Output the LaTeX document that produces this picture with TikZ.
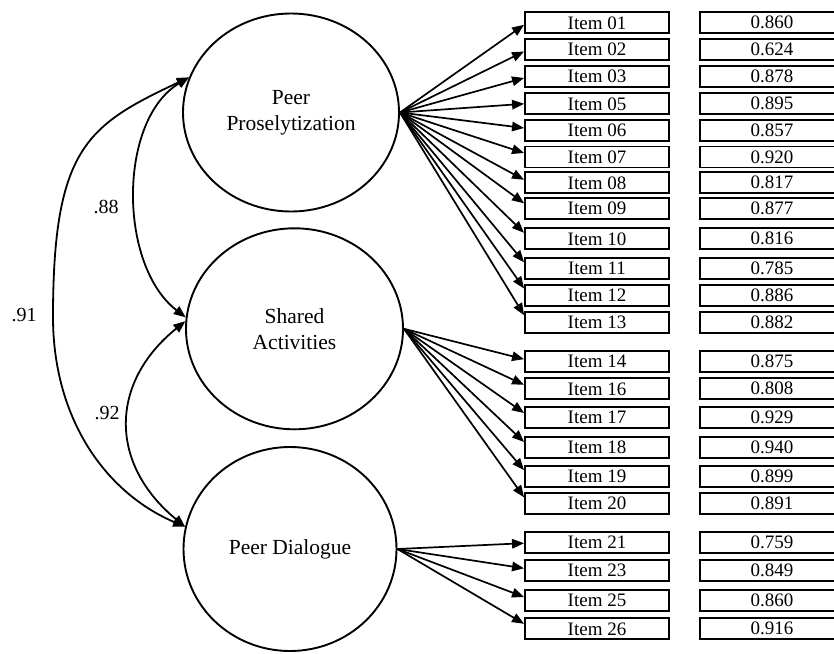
\documentclass[tikz,border=0pt]{standalone}
\usepackage{fontspec}
\setmainfont{Liberation Serif}
\usetikzlibrary{shapes.geometric,arrows.meta}
\begin{document}
\begin{tikzpicture}[x=1pt,y=-1pt,
  latent/.style={draw, ellipse, line width=1.9pt, inner sep=0pt, align=center,
    font=\fontsize{21.5}{26}\selectfont},
  itembox/.style={draw, rectangle, line width=1.9pt, minimum width=144pt,
    minimum height=21pt, inner sep=0pt, font=\fontsize{19}{22}\selectfont},
  load/.style={line width=1.7pt, -{Triangle[length=12pt,width=9.5pt]}},
  cov/.style={line width=1.8pt, {Triangle[length=12pt,width=9.5pt]}-{Triangle[length=12pt,width=9.5pt]}},
  corr/.style={font=\fontsize{20}{24}\selectfont, inner sep=0pt}
]
\useasboundingbox (0,0) rectangle (834,653);
\clip (0,0) rectangle (834,653);

% latent factors
\node[latent, minimum width=216pt, minimum height=198pt] (pp) at (291,112.5) {Peer\\Proselytization};
\node[latent, minimum width=217pt, minimum height=201pt] (sa) at (294.5,328.8) {Shared\\Activities};
\node[latent, minimum width=213pt, minimum height=204pt] (pd) at (290,549) {Peer Dialogue};

% indicator boxes and loadings
\foreach \n/\y/\v/\o in {01/22.8/0.860/-2, 02/49.5/0.624/-2, 03/76.5/0.878/-1.5,
  05/103.8/0.895/0, 06/130.5/0.857/2.5, 07/157/0.920/4, 08/182.8/0.817/3,
  09/208.3/0.877/5, 10/238.8/0.816/6, 11/268.3/0.785/6, 12/295.5/0.886/7,
  13/322.2/0.882/7}{
  \node[itembox] (item\n) at (597,\y) {Item \n};
  \node[itembox] (val\n) at (772,\y) {\v};
  \draw[load] (pp.east) -- ([yshift=\o pt]item\n.west);
}
\foreach \n/\y/\v/\o in {14/361.2/0.875/2, 16/388.8/0.808/4, 17/417.5/0.929/4.5,
  18/447.5/0.940/5.5, 19/476.2/0.899/6, 20/503.3/0.891/6}{
  \node[itembox] (item\n) at (597,\y) {Item \n};
  \node[itembox] (val\n) at (772,\y) {\v};
  \draw[load] (sa.east) -- ([yshift=\o pt]item\n.west);
}
\foreach \n/\y/\v/\o in {21/542.2/0.759/-1, 23/570.3/0.849/2, 25/600.5/0.860/3.5,
  26/628.8/0.916/5}{
  \node[itembox] (item\n) at (597,\y) {Item \n};
  \node[itembox] (val\n) at (772,\y) {\v};
  \draw[load] (pd.east) -- ([yshift=\o pt]item\n.west);
}

% factor correlations
\draw[cov] (pp.161) .. controls (118,120) and (118,265) .. (sa.174);
\draw[cov] (sa.176) .. controls (109,383) and (109,464) .. (pd.168);
\draw[cov] (pp.161) .. controls (88,125) and (53,147) .. (53,317)
  .. controls (53,417) and (104,492) .. (pd.168);

\node[corr] (c88) at (106,207) {.88};
\node[corr] (c92) at (107,413) {.92};
\node[corr] (c91) at (24,315) {.91};
\end{tikzpicture}
\end{document}
